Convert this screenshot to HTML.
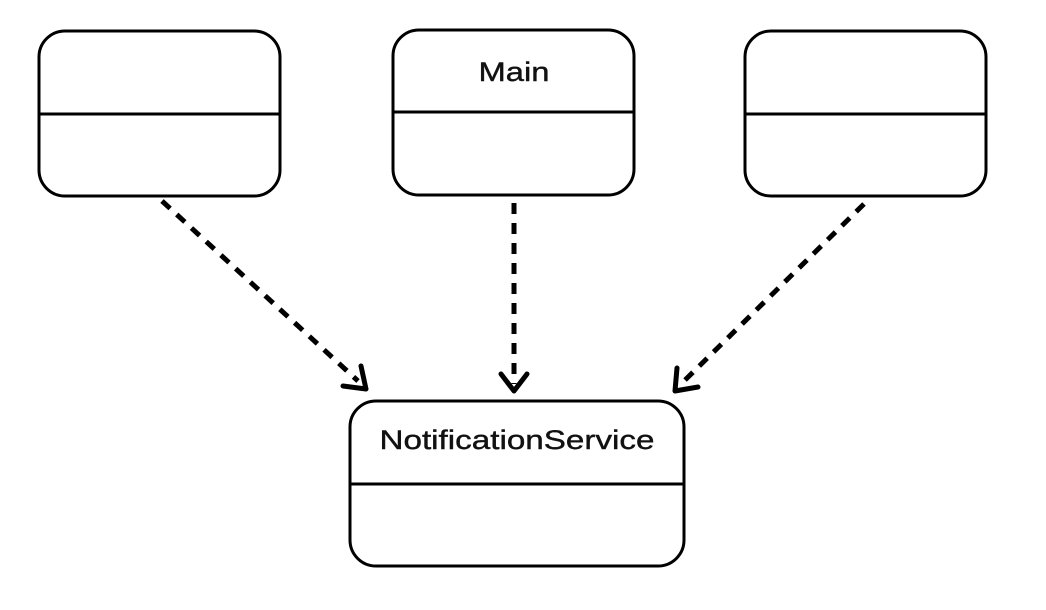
<!DOCTYPE html>
<html><head><meta charset="utf-8"><style>
html,body{margin:0;padding:0;background:#fff;width:1046px;height:610px;overflow:hidden}
</style></head><body>
<svg width="1046" height="610" viewBox="0 0 1046 610" xmlns="http://www.w3.org/2000/svg">
<g fill="#fff" stroke="#000" stroke-width="3">
<rect x="39" y="31" width="241" height="165" rx="26"/>
<line x1="39" y1="114" x2="280" y2="114"/>
<rect x="393" y="30" width="241" height="165" rx="26"/>
<line x1="393" y1="112" x2="634" y2="112"/>
<rect x="745" y="31" width="241" height="165" rx="26"/>
<line x1="745" y1="114" x2="986" y2="114"/>
<rect x="350" y="401" width="334" height="165" rx="26"/>
<line x1="350" y1="484" x2="684" y2="484"/>
</g>
<g stroke="#000" stroke-width="5" fill="none" stroke-dasharray="11 9">
<line x1="162" y1="201" x2="358" y2="381"/>
<line x1="514" y1="203" x2="514" y2="384"/>
<line x1="864" y1="204" x2="682" y2="383"/>
</g>
<g stroke="#000" stroke-width="5" fill="none" stroke-linecap="round" stroke-linejoin="round">
<polyline points="343,386 366,389 361,366"/>
<polyline points="501,374 514,391 527,374"/>
<polyline points="677,368 675,391 698,387"/>
</g>
<g font-family="'Liberation Sans',sans-serif" font-size="27" fill="#111" stroke="#111" stroke-width="0.4" text-anchor="middle">
<text x="514" y="81" textLength="71" lengthAdjust="spacingAndGlyphs">Main</text>
<text x="517" y="449" textLength="275" lengthAdjust="spacingAndGlyphs">NotificationService</text>
</g>
</svg>
</body></html>
